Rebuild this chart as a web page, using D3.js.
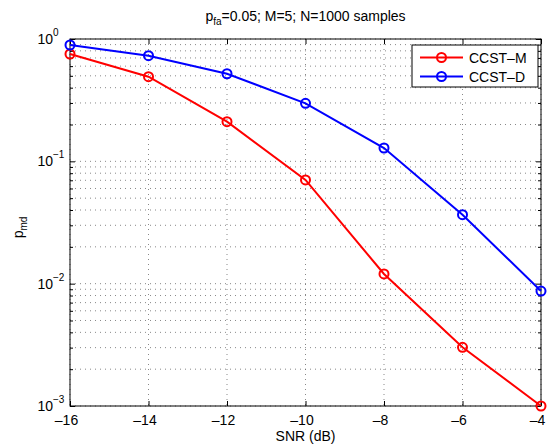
<!DOCTYPE html>
<html>
<head>
<meta charset="utf-8">
<script src="https://cdn.jsdelivr.net/npm/d3@7/dist/d3.min.js"></script>
<style>
    body { margin: 0; background: #fff; }
    text { font-family: "Liberation Sans", Arial, sans-serif; fill: #000; }
</style>
</head>
<body>
<div id="chart"></div>
<script>

// data
const snr = [-16, -14, -12, -10, -8, -6, -4];
const ccstM = [0.754, 0.492, 0.211, 0.0704, 0.0120, 0.00302, 0.00100];
const ccstD = [0.893, 0.730, 0.520, 0.298, 0.1285, 0.0366, 0.0087];

const seriesNames = ["CCST\u2013M", "CCST\u2013D"];
const seriesColors = ["#ff0000", "#0000ff"];

const xTicks = [-16, -14, -12, -10, -8, -6, -4];
const yTicks = [1e-3, 1e-2, 1e-1, 1];
const yTickExps = ["\u22123", "\u22122", "\u22121", "0"];


class PmdVis {

    constructor(_parentElement) {
        this.parentElement = _parentElement;
        this.initVis();
    }

    initVis() {
        let vis = this;

        vis.margin = {top: 39, right: 10, bottom: 39, left: 70};
        vis.width = 551 - vis.margin.left - vis.margin.right;
        vis.height = 445 - vis.margin.top - vis.margin.bottom;

        vis.svg = d3.select(`#${vis.parentElement}`)
            .append("svg")
            .attr("width", 551)
            .attr("height", 445)
            .append("g")
            .attr("transform", `translate(${vis.margin.left}, ${vis.margin.top})`);

        vis.x = d3.scaleLinear().domain([-16, -4]).range([0, vis.width]);
        vis.y = d3.scaleLog().domain([1e-3, 1]).range([vis.height, 0]);

        // minor values for the log grid
        vis.minor = [];
        [1e-3, 1e-2, 1e-1].forEach(d => {
            for (let k = 2; k <= 9; k++) vis.minor.push(k * d);
        });

        vis.updateVis();
    }

    updateVis() {
        let vis = this;

        // dotted grid
        let grid = vis.svg.append("g").attr("class", "grid")
            .attr("stroke", "#555")
            .attr("stroke-width", 0.7)
            .attr("stroke-dasharray", "1,4");

        grid.selectAll(".gy")
            .data(yTicks.concat(vis.minor))
            .enter().append("line")
            .attr("x1", 0).attr("x2", vis.width)
            .attr("y1", d => vis.y(d)).attr("y2", d => vis.y(d));

        grid.selectAll(".gx")
            .data(xTicks)
            .enter().append("line")
            .attr("y1", 0).attr("y2", vis.height)
            .attr("x1", d => vis.x(d)).attr("x2", d => vis.x(d));

        // axes, ticks pointing inward on all four sides
        let fmtX = d => (d < 0 ? "\u2013" : "") + Math.abs(d);

        vis.svg.append("g")
            .attr("transform", `translate(0, ${vis.height})`)
            .call(d3.axisBottom(vis.x).tickValues(xTicks).tickSize(-5).tickPadding(9).tickFormat(fmtX))
            .call(g => g.selectAll("text").attr("dx", "-4px"));

        vis.svg.append("g")
            .call(d3.axisTop(vis.x).tickValues(xTicks).tickSize(-5).tickFormat(""));

        vis.svg.append("g")
            .call(d3.axisLeft(vis.y).tickValues(yTicks).tickSize(-5).tickFormat(""));

        vis.svg.append("g")
            .call(d3.axisLeft(vis.y).tickValues(vis.minor).tickSize(-3).tickFormat(""));

        vis.svg.append("g")
            .attr("transform", `translate(${vis.width}, 0)`)
            .call(d3.axisRight(vis.y).tickValues(yTicks).tickSize(-5).tickFormat(""));

        vis.svg.append("g")
            .attr("transform", `translate(${vis.width}, 0)`)
            .call(d3.axisRight(vis.y).tickValues(vis.minor).tickSize(-3).tickFormat(""));

        vis.svg.selectAll(".domain").remove();
        vis.svg.selectAll(".tick text")
            .attr("font-size", 14)
            .attr("font-family", "Liberation Sans, Arial, sans-serif");

        vis.svg.append("rect")
            .attr("width", vis.width)
            .attr("height", vis.height)
            .attr("fill", "none")
            .attr("stroke", "#000")
            .attr("stroke-width", 1);

        // y tick labels as 10^n
        vis.svg.append("g").selectAll("text")
            .data(yTicks)
            .enter().append("text")
            .attr("x", -17)
            .attr("y", d => vis.y(d) + 5)
            .attr("text-anchor", "end")
            .attr("font-size", 14)
            .text("10");

        vis.svg.append("g").selectAll("text")
            .data(yTicks)
            .enter().append("text")
            .attr("x", -17)
            .attr("y", d => vis.y(d) - 3)
            .attr("font-size", 10)
            .text((d, i) => yTickExps[i]);

        // series
        let line = d3.line()
            .x((d, i) => vis.x(snr[i]))
            .y(d => vis.y(d));

        [ccstM, ccstD].forEach((vals, s) => {
            vis.svg.append("path")
                .datum(vals)
                .attr("d", line)
                .attr("fill", "none")
                .attr("stroke", seriesColors[s])
                .attr("stroke-width", 2);

            vis.svg.append("g").selectAll("circle")
                .data(vals)
                .enter().append("circle")
                .attr("cx", (d, i) => vis.x(snr[i]))
                .attr("cy", d => vis.y(d))
                .attr("r", 4.5)
                .attr("fill", "none")
                .attr("stroke", seriesColors[s])
                .attr("stroke-width", 2);
        });

        // title and axis labels
        let title = vis.svg.append("text")
            .attr("x", vis.width / 2)
            .attr("y", -18)
            .attr("text-anchor", "middle")
            .attr("font-size", 14);
        title.append("tspan").text("p");
        title.append("tspan").attr("font-size", 10).attr("dy", 4).text("fa");
        title.append("tspan").attr("dy", -4).text("=0.05; M=5; N=1000 samples");

        vis.svg.append("text")
            .attr("x", vis.width / 2)
            .attr("y", vis.height + 35)
            .attr("text-anchor", "middle")
            .attr("font-size", 14)
            .text("SNR (dB)");

        let ylab = vis.svg.append("text")
            .attr("transform", `translate(-47, ${vis.height / 2 + 5}) rotate(-90)`)
            .attr("text-anchor", "middle")
            .attr("font-size", 14);
        ylab.append("tspan").text("p");
        ylab.append("tspan").attr("font-size", 10).attr("dy", 4).text("md");

        // legend
        let lg = vis.svg.append("g")
            .attr("transform", `translate(${vis.width - 129}, 6)`);

        lg.append("rect")
            .attr("width", 126)
            .attr("height", 42)
            .attr("fill", "#fff")
            .attr("stroke", "#000")
            .attr("stroke-width", 1);

        let entry = lg.selectAll(".entry")
            .data(seriesNames)
            .enter().append("g")
            .attr("transform", (d, i) => `translate(0, ${12.5 + i * 19})`);

        entry.append("line")
            .attr("x1", 8).attr("x2", 51)
            .attr("stroke", (d, i) => seriesColors[i])
            .attr("stroke-width", 2);

        entry.append("circle")
            .attr("cx", 29.5)
            .attr("r", 4.5)
            .attr("fill", "none")
            .attr("stroke", (d, i) => seriesColors[i])
            .attr("stroke-width", 2);

        entry.append("text")
            .attr("x", 57)
            .attr("y", 5)
            .attr("font-size", 14)
            .text(d => d);
    }
}

new PmdVis("chart");

</script>
</body>
</html>
